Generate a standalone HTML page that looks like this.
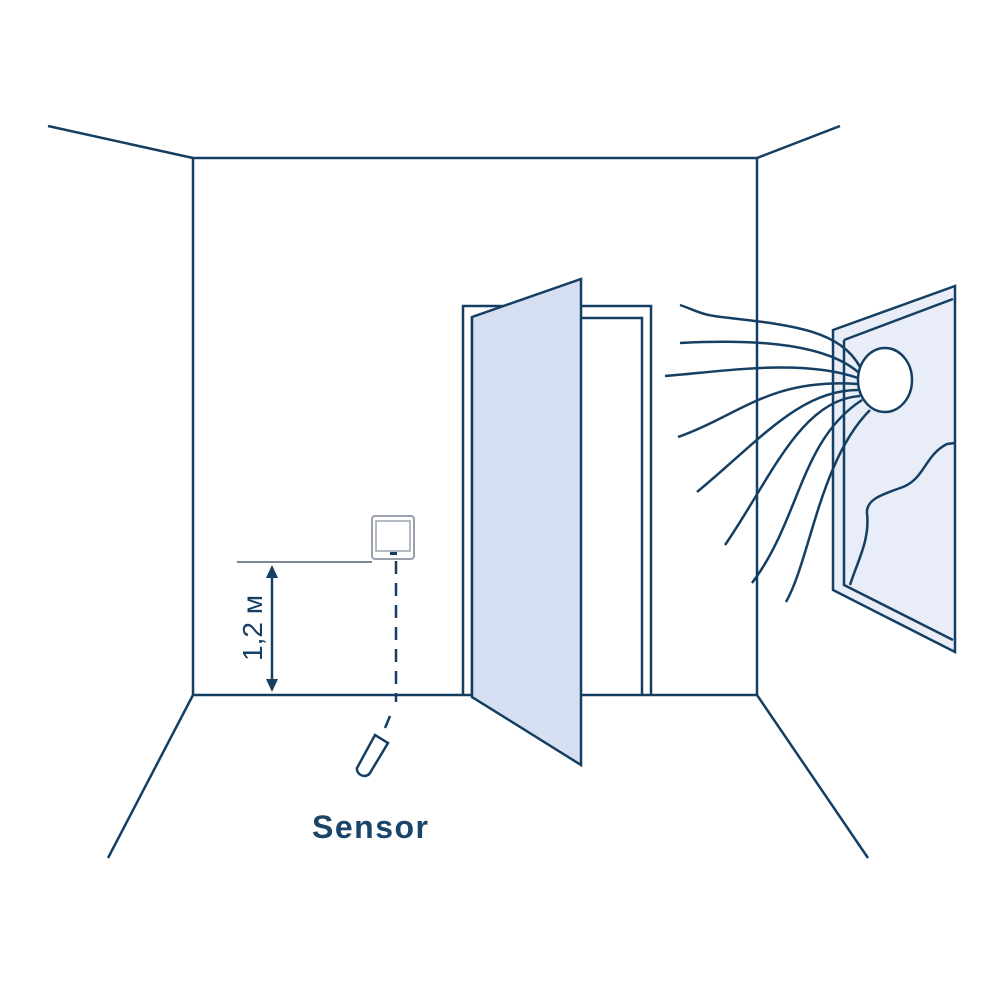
<!DOCTYPE html>
<html><head><meta charset="utf-8"><style>html,body{margin:0;padding:0;background:#fff}svg{display:block}</style></head><body>
<svg width="1000" height="1000" viewBox="0 0 1000 1000" xmlns="http://www.w3.org/2000/svg">
<g fill="none" stroke="#143f62" stroke-width="2.5" stroke-linejoin="miter">
<line x1="48" y1="126" x2="193" y2="158"/>
<line x1="757" y1="158" x2="840" y2="126"/>
<rect x="193" y="158" width="564" height="537"/>
<line x1="193" y1="695" x2="108" y2="858"/>
<line x1="757" y1="695" x2="868" y2="858"/>
<path d="M463 695 V306 H651 V695"/>
<path d="M472 695 V318 H642 V695"/>
<polygon points="472,317 581,279 581,765 472,697" fill="#d6dff1"/>
<polygon points="833,330 955,286 955,652 833,590" fill="#e8edf8"/>
<polyline points="844,340 953,299"/>
<polyline points="844,340 844,585 953,640"/>
<path d="M850 585 C858 560 870 540 867 513 C866 500 880 495 903 487 C925 478 925 455 947 444 L955 443"/>
<ellipse cx="885" cy="380" rx="27" ry="32" fill="#fff"/>
<path d="M680 305 C700 312 700 315 730 318 C790 325 840 330 860 367"/>
<path d="M680 343 C740 340 820 340 858 372"/>
<path d="M665 376 C720 372 800 358 858 378"/>
<path d="M678 437 C740 415 770 378 858 384"/>
<path d="M697 492 C760 440 800 390 858 390"/>
<path d="M725 545 C770 480 800 400 860 396"/>
<path d="M752 583 C800 520 800 440 862 400"/>
<path d="M786 602 C810 560 820 460 870 410"/>
</g>
<line x1="237" y1="562" x2="372" y2="562" stroke="#7b8794" stroke-width="2"/>
<rect x="372" y="516" width="42" height="43" rx="3" fill="#fff" stroke="#9aa3ad" stroke-width="2"/>
<rect x="376" y="521" width="34" height="30" fill="none" stroke="#9aa3ad" stroke-width="1.5"/>
<rect x="390" y="552" width="7" height="3" fill="#143f62"/>
<g stroke="#143f62" stroke-width="2.5" fill="#143f62">
<line x1="272" y1="575" x2="272" y2="680"/>
<polygon points="272,565 266,578 278,578" stroke="none"/>
<polygon points="272,692 266,679 278,679" stroke="none"/>
<line x1="396" y1="561" x2="396" y2="702" stroke-dasharray="13 9" fill="none"/>
<line x1="390" y1="716" x2="385" y2="728" fill="none"/>
<path d="M375 735 L388 743 L370 773 C366 779 356 775 357 768 Z" fill="none"/>
</g>
<text transform="translate(262 628) rotate(-90)" text-anchor="middle" font-family="Liberation Sans, sans-serif" font-size="28" fill="#143f62">1,2 м</text>
<text x="312" y="838" font-family="Liberation Sans, sans-serif" font-size="32" font-weight="bold" letter-spacing="1.5" fill="#1a4468">Sensor</text>
</svg>
</body></html>
